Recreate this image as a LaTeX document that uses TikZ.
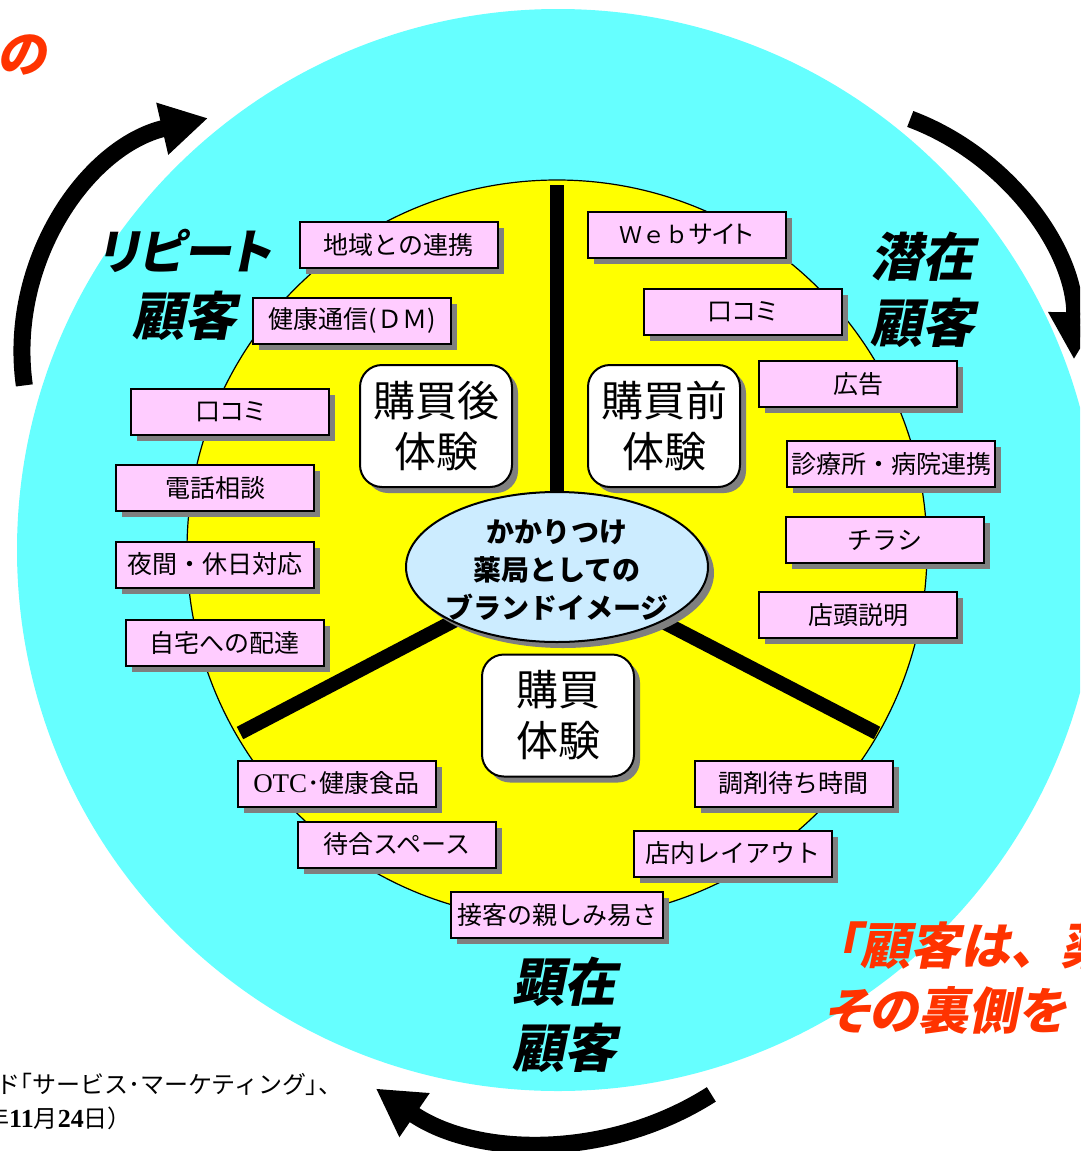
\documentclass[tikz,border=0pt]{standalone}
\usepackage{fontspec}
\setmainfont{Liberation Serif}
\newfontfamily\cjk{Noto Sans CJK JP}
\newfontfamily\cjkp{Noto Sans CJK JP}[RawFeature=+palt]
\newfontfamily\cjkit{Noto Sans CJK JP}[FakeSlant=0.2,RawFeature=+palt]
\newfontfamily\cjkitn{Noto Sans CJK JP}[FakeSlant=0.2]
\usetikzlibrary{arrows.meta,shadows,shapes.geometric}
\definecolor{cyanbg}{HTML}{66FFFF}
\definecolor{yel}{HTML}{FFFF00}
\definecolor{pinkbox}{HTML}{FFCCFF}
\definecolor{ellblue}{HTML}{CCECFF}
\definecolor{redtxt}{HTML}{FF3300}
\definecolor{shad}{HTML}{7F7F7F}
\tikzset{
  shd/.style={drop shadow={shadow xshift=6pt, shadow yshift=-6pt, fill=shad, opacity=1}},
  pbox/.style={draw=black, line width=2pt, fill=pinkbox, minimum width=198pt, minimum height=46pt,
    inner sep=1pt, font=\cjk\fontsize{25}{28}\selectfont, shd},
  rbox/.style={draw=black, line width=2pt, fill=white, rounded corners=22pt, minimum width=152pt,
    minimum height=122pt, align=center, inner sep=0pt, font=\cjk\fontsize{42}{51}\selectfont, shd},
  lab/.style={align=center, font=\cjkit\bfseries\fontsize{52}{66}\selectfont},
  redlab/.style={text=redtxt, inner sep=0pt, font=\cjkit\bfseries\fontsize{50}{64}\selectfont},
  arr/.style={line width=17pt, -{Triangle[length=47pt,width=50pt]}},
  divline/.style={line width=14pt},
}
\begin{document}
\begin{tikzpicture}[x=1pt,y=1pt]
\useasboundingbox (0,0) rectangle (1080,-1151);
\clip (0,0) rectangle (1080,-1151);
% outer cyan disc
\fill[cyanbg] (558,-550) circle[radius=541];
% cycle arrows
\coordinate (acl) at (262,-352);
\coordinate (acr) at (822,-355);
\coordinate (acb) at (548,-838);
\draw[arr] (acl) ++(188:240) arc[start angle=188, end angle=103, radius=240];
\draw[arr] (acr) ++(69.5:252) arc[start angle=69.5, end angle=-1, radius=252];
\draw[arr] (acb) ++(-57.5:304) arc[start angle=-57.5, end angle=-124.5, radius=304];
% yellow disc
\filldraw[fill=yel, draw=black, line width=1.2pt] (557,-550) circle[radius=370];
% dividers
\coordinate (bc) at (557,-567);
\coordinate (dtop) at (557,-185);
\coordinate (dl) at (240,-733);
\coordinate (dr) at (877,-733);
\draw[divline] (bc) -- (dtop);
\draw[divline] (bc) -- (dl);
\draw[divline] (bc) -- (dr);
% central ellipse
\node[ellipse, draw=black, line width=2pt, fill=ellblue, minimum width=302pt, minimum height=150pt, inner sep=0pt, shd] (brand) at (bc) {};
\node[align=center, font=\cjk\bfseries\fontsize{28}{38}\selectfont] (brandtxt) at (557,-570) {かかりつけ\\薬局としての\\ブランドイメージ};
% experience boxes
\node[rbox] (post) at (436,-426) {購買後\\体験};
\node[rbox] (pre) at (664,-426) {購買前\\体験};
\node[rbox] (buy) at (558,-715.5) {購買\\体験};
% pink boxes left
\node[pbox] (b1) at (398.5,-245) {地域との連携};
\node[pbox] (b2) at (352,-320.5) {健康通信(ＤＭ)};
\node[pbox] (b3) at (230,-411.5) {{\cjkp 口コミ}};
\node[pbox] (b4) at (215,-488) {電話相談};
\node[pbox] (b5) at (215,-564.5) {夜間・休日対応};
\node[pbox] (b6) at (224.5,-642.5) {自宅への配達};
% pink boxes right
\node[pbox] (c1) at (686.5,-234.5) {{\fontsize{23}{28}\selectfont Ｗｅｂ}{\cjkp サイト}};
\node[pbox] (c2) at (742.5,-311.5) {{\cjkp 口コミ}};
\node[pbox] (c3) at (858,-384) {広告};
\node[pbox, minimum width=208pt] (c4) at (891,-464) {診療所・病院連携};
\node[pbox] (c5) at (885,-540) {チラシ};
\node[pbox] (c6) at (858,-615) {店頭説明};
% pink boxes bottom
\node[pbox] (d1) at (336.5,-783.5) {{\rmfamily\fontsize{27}{28}\selectfont OTC}･健康食品};
\node[pbox] (d2) at (397,-844.5) {待合スペース};
\node[pbox, minimum width=212pt] (d3) at (557,-915) {接客の親しみ易さ};
\node[pbox] (d4) at (793.5,-783.5) {調剤待ち時間};
\node[pbox] (d5) at (732.5,-853.5) {店内レイアウト};
% customer labels
\node[lab] (repeat) at (184,-285) {{\fontsize{48}{66}\selectfont リピート}\\顧客};
\node[lab] (latent) at (922,-290) {潜在\\顧客};
\node[lab] (manifest) at (564,-1015) {顕在\\顧客};
% red texts
\node[redlab, anchor=east] (redno) at (46,-55) {の};
\node[redlab, anchor=west] (red1) at (835,-946) {「{\cjkitn\bfseries 顧客は、薬}};
\node[redlab, anchor=west] (red2) at (824,-1010) {その裏側を};
% source note
\node[anchor=west, inner sep=0pt, font=\cjk\fontsize{24}{24}\selectfont] (src1) at (-4,-1084) {ド{\cjkp 「}サービス･マーケティング{\cjkp 」、}};
\node[anchor=west, inner sep=0pt, font=\cjk\fontsize{24}{24}\selectfont] (src2) at (-15,-1118) {年{\rmfamily\bfseries\fontsize{26}{26}\selectfont 11}月{\rmfamily\bfseries\fontsize{26}{26}\selectfont 24}日）};
\end{tikzpicture}
\end{document}
